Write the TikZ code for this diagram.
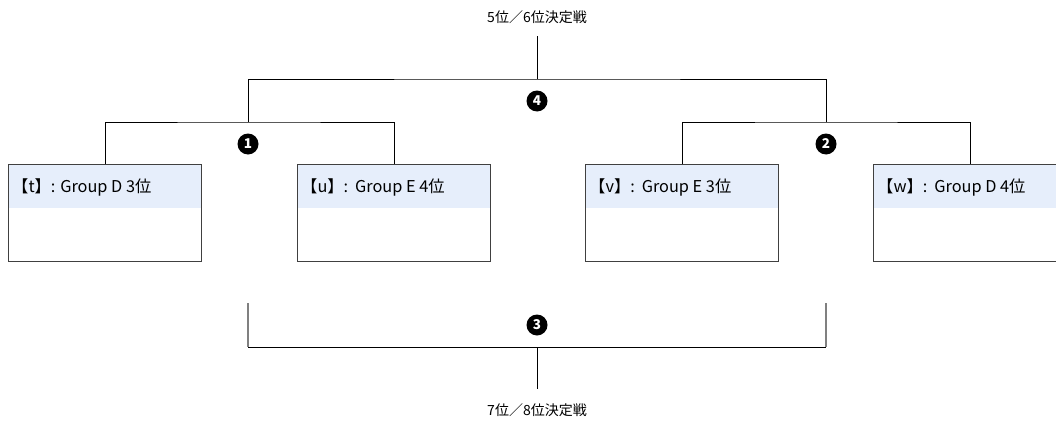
\documentclass[tikz,border=0pt]{standalone}
\usepackage{fontspec}
\setmainfont{Noto Sans CJK JP}
\begin{document}
\begin{tikzpicture}[x=1pt,y=-1pt,
  teambox/.style={rectangle,draw=black!75,line width=1.1pt,minimum width=193pt,minimum height=97pt,anchor=north west,inner sep=0pt,
    path picture={\fill[headfill] (path picture bounding box.north west) rectangle ([yshift=-43pt]path picture bounding box.north east);}},
  teamtext/.style={anchor=west,font=\fontsize{16.3}{19}\selectfont,inner sep=0pt},
  brk/.style={line width=0.9pt,black},
  brkgray/.style={line width=1.6pt,black!50},
  numc/.style={circle,fill=black,text=white,minimum size=21pt,inner sep=0pt,font=\fontsize{13.5}{13.5}\selectfont\bfseries},
  lbl/.style={font=\fontsize{14}{16}\selectfont,inner sep=0pt}
]
\definecolor{headfill}{HTML}{E6EEFB}
\useasboundingbox (0,0) rectangle (1056,420);

% boxes
\node[teambox] (b1) at (8,164) {};
\node[teambox] (b2) at (297,164) {};
\node[teambox] (b3) at (585,164) {};
\node[teambox] (b4) at (873,164) {};
\node[teamtext] (t1) at (12,187) {【t】: Group D 3位};
\node[teamtext] (t2) at (301,187) {【u】:\hspace{7pt}Group E 4位};
\node[teamtext] (t3) at (589,187) {【v】:\hspace{7pt}Group E 3位};
\node[teamtext] (t4) at (877,187) {【w】:\hspace{7pt}Group D 4位};

% junctions
\coordinate (j1) at (248,122);
\coordinate (j2) at (826,122);
\coordinate (j4) at (537,79);
\coordinate (top) at (537,36);
\coordinate (j3) at (537,347);
\coordinate (bot) at (537,389);

% upper brackets
\draw[brk] (b1.north) |- (j1) -| (b2.north);
\draw[brk] (b3.north) |- (j2) -| (b4.north);
\draw[brk] (j1) |- (j4) -| (j2);
\draw[brk] (j4) -- (top);

% lower bracket
\coordinate (l3) at (248,303);
\coordinate (r3) at (826,303);
\coordinate (l3b) at (248,347);
\coordinate (r3b) at (826,347);
\draw[brk] (l3b) -- (r3b);
\draw[brkgray] (l3) -- (l3b);
\draw[brkgray] (r3) -- (r3b);
\draw[brk] (j3) -- (bot);

% numbers
\node[numc] (n1) at (248,144) {1};
\node[numc] (n2) at (826,144) {2};
\node[numc] (n4) at (537,101) {4};
\node[numc] (n3) at (537,325) {3};

% labels
\node[lbl] (lt) at (537,17) {5位／6位決定戦};
\node[lbl] (lb) at (537,410) {7位／8位決定戦};
\end{tikzpicture}
\end{document}
